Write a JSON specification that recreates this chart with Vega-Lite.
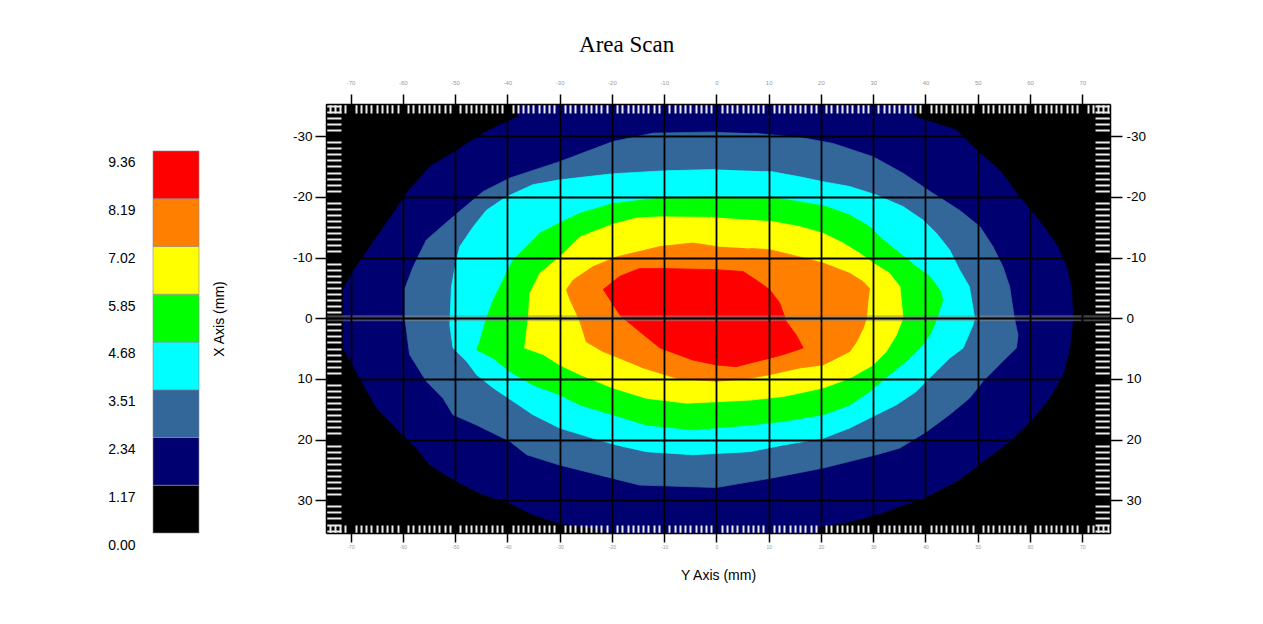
{
"$schema": "https://vega.github.io/schema/vega-lite/v6.json",
"background": "white",
"padding": {"left": 107, "top": 34, "right": 5, "bottom": 5},
"config": {"view": {"stroke": null}, "font": "Liberation Sans", "axis": {"labelFont": "Liberation Sans", "titleFont": "Liberation Sans"}},
"title": {"text": "Area Scan", "font": "Liberation Serif", "fontSize": 23, "fontWeight": "normal", "color": "#000", "anchor": "middle", "offset": 22},
"datasets": {
"legend": [
{"level":0,"lo":0,"hi":1.17},{"level":1,"lo":1.17,"hi":2.34},{"level":2,"lo":2.34,"hi":3.51},{"level":3,"lo":3.51,"hi":4.68},
{"level":4,"lo":4.68,"hi":5.85},{"level":5,"lo":5.85,"hi":7.02},{"level":6,"lo":7.02,"hi":8.19},{"level":7,"lo":8.19,"hi":9.36}],
"contours": [
{"level":1,"i":1,"y_mm":-36,"x_mm":-40},{"level":1,"i":2,"y_mm":-37.6,"x_mm":-35.3},{"level":1,"i":3,"y_mm":-37.9,"x_mm":-33.3},{"level":1,"i":4,"y_mm":-44.6,"x_mm":-30.5},{"level":1,"i":5,"y_mm":-49.4,"x_mm":-27.8},{"level":1,"i":6,"y_mm":-54.8,"x_mm":-25.0},{"level":1,"i":7,"y_mm":-59.3,"x_mm":-20.6},{"level":1,"i":8,"y_mm":-61.8,"x_mm":-17.3},{"level":1,"i":9,"y_mm":-65.0,"x_mm":-13.4},{"level":1,"i":10,"y_mm":-67.6,"x_mm":-10.1},{"level":1,"i":11,"y_mm":-69.8,"x_mm":-7.4},{"level":1,"i":12,"y_mm":-71.4,"x_mm":-4.7},{"level":1,"i":13,"y_mm":-71.4,"x_mm":4.9},{"level":1,"i":14,"y_mm":-68.2,"x_mm":9.9},{"level":1,"i":15,"y_mm":-65.0,"x_mm":14.8},{"level":1,"i":16,"y_mm":-60.6,"x_mm":18.7},{"level":1,"i":17,"y_mm":-57.4,"x_mm":21.4},{"level":1,"i":18,"y_mm":-54.8,"x_mm":24.2},{"level":1,"i":19,"y_mm":-49.7,"x_mm":26.9},{"level":1,"i":20,"y_mm":-44.6,"x_mm":29.1},{"level":1,"i":21,"y_mm":-39.5,"x_mm":30.5},{"level":1,"i":22,"y_mm":-35.1,"x_mm":32.4},{"level":1,"i":23,"y_mm":-30.0,"x_mm":33.8},{"level":1,"i":24,"y_mm":-23.6,"x_mm":34.6},{"level":1,"i":25,"y_mm":-19.8,"x_mm":35.4},{"level":1,"i":26,"y_mm":-18,"x_mm":40},{"level":1,"i":27,"y_mm":18,"x_mm":40},{"level":1,"i":28,"y_mm":19.1,"x_mm":35.4},{"level":1,"i":29,"y_mm":20.4,"x_mm":34.3},{"level":1,"i":30,"y_mm":25.5,"x_mm":33.5},{"level":1,"i":31,"y_mm":30.6,"x_mm":32.4},{"level":1,"i":32,"y_mm":39.5,"x_mm":29.7},{"level":1,"i":33,"y_mm":45.9,"x_mm":26.9},{"level":1,"i":34,"y_mm":51.0,"x_mm":23.6},{"level":1,"i":35,"y_mm":56.1,"x_mm":20.3},{"level":1,"i":36,"y_mm":60.6,"x_mm":16.5},{"level":1,"i":37,"y_mm":63.7,"x_mm":13.2},{"level":1,"i":38,"y_mm":66.3,"x_mm":9.3},{"level":1,"i":39,"y_mm":67.6,"x_mm":4.9},{"level":1,"i":40,"y_mm":68.2,"x_mm":0},{"level":1,"i":41,"y_mm":67.9,"x_mm":-5.2},{"level":1,"i":42,"y_mm":66.9,"x_mm":-8.5},{"level":1,"i":43,"y_mm":65.3,"x_mm":-11.8},{"level":1,"i":44,"y_mm":63.1,"x_mm":-14.5},{"level":1,"i":45,"y_mm":60.6,"x_mm":-17.3},{"level":1,"i":46,"y_mm":57.7,"x_mm":-20.3},{"level":1,"i":47,"y_mm":54.2,"x_mm":-24.4},{"level":1,"i":48,"y_mm":50.4,"x_mm":-27.2},{"level":1,"i":49,"y_mm":45.9,"x_mm":-31.0},{"level":1,"i":50,"y_mm":37.6,"x_mm":-33.3},{"level":1,"i":51,"y_mm":38.3,"x_mm":-35.3},{"level":1,"i":52,"y_mm":37,"x_mm":-40},
{"level":2,"i":1,"y_mm":0,"x_mm":-30.7},{"level":2,"i":2,"y_mm":-12.1,"x_mm":-30.5},{"level":2,"i":3,"y_mm":-19.8,"x_mm":-29.1},{"level":2,"i":4,"y_mm":-30.0,"x_mm":-25.8},{"level":2,"i":5,"y_mm":-39.5,"x_mm":-23.1},{"level":2,"i":6,"y_mm":-44.6,"x_mm":-20.9},{"level":2,"i":7,"y_mm":-50.4,"x_mm":-16.7},{"level":2,"i":8,"y_mm":-55.5,"x_mm":-12.9},{"level":2,"i":9,"y_mm":-58.0,"x_mm":-8.5},{"level":2,"i":10,"y_mm":-59.6,"x_mm":-4.9},{"level":2,"i":11,"y_mm":-59.6,"x_mm":0},{"level":2,"i":12,"y_mm":-58.7,"x_mm":6.0},{"level":2,"i":13,"y_mm":-55.5,"x_mm":10.4},{"level":2,"i":14,"y_mm":-52.3,"x_mm":13.2},{"level":2,"i":15,"y_mm":-50.4,"x_mm":15.9},{"level":2,"i":16,"y_mm":-45.9,"x_mm":17.6},{"level":2,"i":17,"y_mm":-39.5,"x_mm":20.3},{"level":2,"i":18,"y_mm":-36.3,"x_mm":22.5},{"level":2,"i":19,"y_mm":-30.0,"x_mm":24.2},{"level":2,"i":20,"y_mm":-19.8,"x_mm":26.4},{"level":2,"i":21,"y_mm":-14.7,"x_mm":27.5},{"level":2,"i":22,"y_mm":0,"x_mm":27.9},{"level":2,"i":23,"y_mm":10.2,"x_mm":26.4},{"level":2,"i":24,"y_mm":20.4,"x_mm":24.7},{"level":2,"i":25,"y_mm":30.6,"x_mm":22.5},{"level":2,"i":26,"y_mm":35.1,"x_mm":21.4},{"level":2,"i":27,"y_mm":40.2,"x_mm":18.7},{"level":2,"i":28,"y_mm":44.6,"x_mm":15.9},{"level":2,"i":29,"y_mm":48.4,"x_mm":13.2},{"level":2,"i":30,"y_mm":51.0,"x_mm":10.4},{"level":2,"i":31,"y_mm":54.8,"x_mm":7.1},{"level":2,"i":32,"y_mm":57.4,"x_mm":4.9},{"level":2,"i":33,"y_mm":57.7,"x_mm":2.8},{"level":2,"i":34,"y_mm":57.0,"x_mm":0},{"level":2,"i":35,"y_mm":56.1,"x_mm":-5.2},{"level":2,"i":36,"y_mm":54.8,"x_mm":-8.5},{"level":2,"i":37,"y_mm":52.9,"x_mm":-11.8},{"level":2,"i":38,"y_mm":50.4,"x_mm":-15.1},{"level":2,"i":39,"y_mm":46.5,"x_mm":-17.8},{"level":2,"i":40,"y_mm":41.4,"x_mm":-20.6},{"level":2,"i":41,"y_mm":35.7,"x_mm":-23.9},{"level":2,"i":42,"y_mm":30.0,"x_mm":-26.6},{"level":2,"i":43,"y_mm":22.3,"x_mm":-28.8},{"level":2,"i":44,"y_mm":16.6,"x_mm":-29.7},{"level":2,"i":45,"y_mm":7.0,"x_mm":-30.5},
{"level":3,"i":1,"y_mm":0,"x_mm":-24.5},{"level":3,"i":2,"y_mm":-9.6,"x_mm":-24.3},{"level":3,"i":3,"y_mm":-19.8,"x_mm":-23.8},{"level":3,"i":4,"y_mm":-30.0,"x_mm":-22.8},{"level":3,"i":5,"y_mm":-35.1,"x_mm":-22.0},{"level":3,"i":6,"y_mm":-40.2,"x_mm":-20.0},{"level":3,"i":7,"y_mm":-44.0,"x_mm":-17.8},{"level":3,"i":8,"y_mm":-46.5,"x_mm":-15.1},{"level":3,"i":9,"y_mm":-49.1,"x_mm":-11.8},{"level":3,"i":10,"y_mm":-50.0,"x_mm":-8.5},{"level":3,"i":11,"y_mm":-50.7,"x_mm":-5.2},{"level":3,"i":12,"y_mm":-51.0,"x_mm":1.1},{"level":3,"i":13,"y_mm":-50.4,"x_mm":4.9},{"level":3,"i":14,"y_mm":-47.8,"x_mm":7.1},{"level":3,"i":15,"y_mm":-45.9,"x_mm":9.3},{"level":3,"i":16,"y_mm":-42.7,"x_mm":11.5},{"level":3,"i":17,"y_mm":-38.9,"x_mm":13.7},{"level":3,"i":18,"y_mm":-35.1,"x_mm":15.9},{"level":3,"i":19,"y_mm":-30.0,"x_mm":18.1},{"level":3,"i":20,"y_mm":-23.6,"x_mm":19.8},{"level":3,"i":21,"y_mm":-19.1,"x_mm":20.9},{"level":3,"i":22,"y_mm":-13.4,"x_mm":22.0},{"level":3,"i":23,"y_mm":-4.5,"x_mm":22.5},{"level":3,"i":24,"y_mm":6.4,"x_mm":22.0},{"level":3,"i":25,"y_mm":12.8,"x_mm":20.9},{"level":3,"i":26,"y_mm":20.4,"x_mm":19.8},{"level":3,"i":27,"y_mm":25.5,"x_mm":18.1},{"level":3,"i":28,"y_mm":30.6,"x_mm":15.9},{"level":3,"i":29,"y_mm":34.4,"x_mm":14.3},{"level":3,"i":30,"y_mm":38.2,"x_mm":12.1},{"level":3,"i":31,"y_mm":41.4,"x_mm":9.3},{"level":3,"i":32,"y_mm":44.6,"x_mm":6.6},{"level":3,"i":33,"y_mm":47.2,"x_mm":4.9},{"level":3,"i":34,"y_mm":49.1,"x_mm":1.1},{"level":3,"i":35,"y_mm":49.4,"x_mm":0},{"level":3,"i":36,"y_mm":48.4,"x_mm":-5.2},{"level":3,"i":37,"y_mm":46.5,"x_mm":-8.0},{"level":3,"i":38,"y_mm":44.6,"x_mm":-11.3},{"level":3,"i":39,"y_mm":42.1,"x_mm":-14.0},{"level":3,"i":40,"y_mm":39.5,"x_mm":-16.2},{"level":3,"i":41,"y_mm":35.7,"x_mm":-18.4},{"level":3,"i":42,"y_mm":30.6,"x_mm":-20.3},{"level":3,"i":43,"y_mm":25.5,"x_mm":-21.7},{"level":3,"i":44,"y_mm":20.4,"x_mm":-22.5},{"level":3,"i":45,"y_mm":15.9,"x_mm":-23.3},{"level":3,"i":46,"y_mm":10.2,"x_mm":-24.2},
{"level":4,"i":1,"y_mm":0,"x_mm":-20.0},{"level":4,"i":2,"y_mm":-10.8,"x_mm":-19.8},{"level":4,"i":3,"y_mm":-19.8,"x_mm":-18.9},{"level":4,"i":4,"y_mm":-26.1,"x_mm":-17.3},{"level":4,"i":5,"y_mm":-30.0,"x_mm":-15.7},{"level":4,"i":6,"y_mm":-33.8,"x_mm":-14.0},{"level":4,"i":7,"y_mm":-36.3,"x_mm":-11.8},{"level":4,"i":8,"y_mm":-38.9,"x_mm":-9.6},{"level":4,"i":9,"y_mm":-40.8,"x_mm":-6.3},{"level":4,"i":10,"y_mm":-42.7,"x_mm":-3.0},{"level":4,"i":11,"y_mm":-44.0,"x_mm":0},{"level":4,"i":12,"y_mm":-45.3,"x_mm":3.9},{"level":4,"i":13,"y_mm":-45.9,"x_mm":5.2},{"level":4,"i":14,"y_mm":-42.7,"x_mm":6.6},{"level":4,"i":15,"y_mm":-39.5,"x_mm":8.8},{"level":4,"i":16,"y_mm":-35.1,"x_mm":11.0},{"level":4,"i":17,"y_mm":-30.0,"x_mm":12.6},{"level":4,"i":18,"y_mm":-26.1,"x_mm":14.3},{"level":4,"i":19,"y_mm":-19.8,"x_mm":15.9},{"level":4,"i":20,"y_mm":-13.4,"x_mm":17.6},{"level":4,"i":21,"y_mm":-4.5,"x_mm":18.4},{"level":4,"i":22,"y_mm":6.4,"x_mm":17.6},{"level":4,"i":23,"y_mm":12.8,"x_mm":17.0},{"level":4,"i":24,"y_mm":20.4,"x_mm":15.9},{"level":4,"i":25,"y_mm":25.5,"x_mm":14.3},{"level":4,"i":26,"y_mm":29.3,"x_mm":12.1},{"level":4,"i":27,"y_mm":33.1,"x_mm":9.3},{"level":4,"i":28,"y_mm":36.3,"x_mm":7.1},{"level":4,"i":29,"y_mm":38.9,"x_mm":4.9},{"level":4,"i":30,"y_mm":40.8,"x_mm":2.8},{"level":4,"i":31,"y_mm":42.2,"x_mm":0},{"level":4,"i":32,"y_mm":43.3,"x_mm":-3.0},{"level":4,"i":33,"y_mm":42.7,"x_mm":-4.7},{"level":4,"i":34,"y_mm":40.8,"x_mm":-6.9},{"level":4,"i":35,"y_mm":38.2,"x_mm":-8.5},{"level":4,"i":36,"y_mm":35.1,"x_mm":-10.7},{"level":4,"i":37,"y_mm":31.9,"x_mm":-12.9},{"level":4,"i":38,"y_mm":29.3,"x_mm":-15.1},{"level":4,"i":39,"y_mm":25.5,"x_mm":-17.0},{"level":4,"i":40,"y_mm":21.0,"x_mm":-18.4},{"level":4,"i":41,"y_mm":15.9,"x_mm":-19.2},{"level":4,"i":42,"y_mm":10.2,"x_mm":-19.9},
{"level":5,"i":1,"y_mm":0,"x_mm":-16.6},{"level":5,"i":2,"y_mm":-10.8,"x_mm":-16.7},{"level":5,"i":3,"y_mm":-15.3,"x_mm":-16.5},{"level":5,"i":4,"y_mm":-19.8,"x_mm":-15.5},{"level":5,"i":5,"y_mm":-26.1,"x_mm":-13.4},{"level":5,"i":6,"y_mm":-30.0,"x_mm":-10.1},{"level":5,"i":7,"y_mm":-33.8,"x_mm":-7.4},{"level":5,"i":8,"y_mm":-35.7,"x_mm":-4.1},{"level":5,"i":9,"y_mm":-36.0,"x_mm":0},{"level":5,"i":10,"y_mm":-36.7,"x_mm":4.9},{"level":5,"i":11,"y_mm":-33.1,"x_mm":6.0},{"level":5,"i":12,"y_mm":-30.0,"x_mm":7.7},{"level":5,"i":13,"y_mm":-26.1,"x_mm":9.3},{"level":5,"i":14,"y_mm":-19.8,"x_mm":11.5},{"level":5,"i":15,"y_mm":-13.4,"x_mm":13.2},{"level":5,"i":16,"y_mm":-5.7,"x_mm":14.0},{"level":5,"i":17,"y_mm":6.4,"x_mm":13.5},{"level":5,"i":18,"y_mm":12.8,"x_mm":12.9},{"level":5,"i":19,"y_mm":20.4,"x_mm":11.5},{"level":5,"i":20,"y_mm":25.5,"x_mm":9.9},{"level":5,"i":21,"y_mm":30.0,"x_mm":7.7},{"level":5,"i":22,"y_mm":32.5,"x_mm":5.5},{"level":5,"i":23,"y_mm":34.4,"x_mm":2.8},{"level":5,"i":24,"y_mm":35.7,"x_mm":0},{"level":5,"i":25,"y_mm":35.1,"x_mm":-5.2},{"level":5,"i":26,"y_mm":33.1,"x_mm":-7.4},{"level":5,"i":27,"y_mm":30.0,"x_mm":-9.1},{"level":5,"i":28,"y_mm":27.4,"x_mm":-10.7},{"level":5,"i":29,"y_mm":24.2,"x_mm":-12.4},{"level":5,"i":30,"y_mm":20.4,"x_mm":-14.0},{"level":5,"i":31,"y_mm":15.9,"x_mm":-15.1},{"level":5,"i":32,"y_mm":10.2,"x_mm":-16.0},
{"level":6,"i":1,"y_mm":0,"x_mm":-11.8},{"level":6,"i":2,"y_mm":-4.5,"x_mm":-12.4},{"level":6,"i":3,"y_mm":-10.8,"x_mm":-11.8},{"level":6,"i":4,"y_mm":-19.1,"x_mm":-10.1},{"level":6,"i":5,"y_mm":-23.6,"x_mm":-8.5},{"level":6,"i":6,"y_mm":-27.4,"x_mm":-6.3},{"level":6,"i":7,"y_mm":-28.7,"x_mm":-4.7},{"level":6,"i":8,"y_mm":-28.0,"x_mm":-3.0},{"level":6,"i":9,"y_mm":-26.8,"x_mm":-0.8},{"level":6,"i":10,"y_mm":-26.1,"x_mm":0.6},{"level":6,"i":11,"y_mm":-24.9,"x_mm":3.9},{"level":6,"i":12,"y_mm":-21.7,"x_mm":5.5},{"level":6,"i":13,"y_mm":-18.5,"x_mm":6.6},{"level":6,"i":14,"y_mm":-14.0,"x_mm":8.2},{"level":6,"i":15,"y_mm":-7.6,"x_mm":9.9},{"level":6,"i":16,"y_mm":0,"x_mm":10.4},{"level":6,"i":17,"y_mm":6.4,"x_mm":9.9},{"level":6,"i":18,"y_mm":10.2,"x_mm":9.3},{"level":6,"i":19,"y_mm":15.9,"x_mm":8.2},{"level":6,"i":20,"y_mm":20.4,"x_mm":7.7},{"level":6,"i":21,"y_mm":25.5,"x_mm":5.5},{"level":6,"i":22,"y_mm":26.8,"x_mm":3.9},{"level":6,"i":23,"y_mm":28.1,"x_mm":1.6},{"level":6,"i":24,"y_mm":28.7,"x_mm":0},{"level":6,"i":25,"y_mm":29.0,"x_mm":-3.0},{"level":6,"i":26,"y_mm":29.3,"x_mm":-4.9},{"level":6,"i":27,"y_mm":28.1,"x_mm":-6.0},{"level":6,"i":28,"y_mm":25.5,"x_mm":-7.4},{"level":6,"i":29,"y_mm":20.4,"x_mm":-9.1},{"level":6,"i":30,"y_mm":15.9,"x_mm":-10.1},{"level":6,"i":31,"y_mm":10.2,"x_mm":-11.3},{"level":6,"i":32,"y_mm":6.4,"x_mm":-11.5},
{"level":7,"i":1,"y_mm":-21.7,"x_mm":-4.7},{"level":7,"i":2,"y_mm":-18.5,"x_mm":-6.9},{"level":7,"i":3,"y_mm":-14.7,"x_mm":-8.2},{"level":7,"i":4,"y_mm":-10.8,"x_mm":-8.2},{"level":7,"i":5,"y_mm":0,"x_mm":-8.0},{"level":7,"i":6,"y_mm":5.1,"x_mm":-7.7},{"level":7,"i":7,"y_mm":7.6,"x_mm":-6.3},{"level":7,"i":8,"y_mm":10.2,"x_mm":-4.7},{"level":7,"i":9,"y_mm":12.1,"x_mm":-2.5},{"level":7,"i":10,"y_mm":13.4,"x_mm":0.6},{"level":7,"i":11,"y_mm":15.3,"x_mm":2.8},{"level":7,"i":12,"y_mm":16.6,"x_mm":4.9},{"level":7,"i":13,"y_mm":12.8,"x_mm":6.0},{"level":7,"i":14,"y_mm":10.2,"x_mm":6.6},{"level":7,"i":15,"y_mm":6.4,"x_mm":7.4},{"level":7,"i":16,"y_mm":3.8,"x_mm":8.0},{"level":7,"i":17,"y_mm":0,"x_mm":7.7},{"level":7,"i":18,"y_mm":-4.5,"x_mm":6.9},{"level":7,"i":19,"y_mm":-10.8,"x_mm":4.9},{"level":7,"i":20,"y_mm":-14.7,"x_mm":2.2},{"level":7,"i":21,"y_mm":-18.5,"x_mm":-0.5}
]},
"hconcat": [
{
"width": 46, "height": 429,
"data": {"name": "legend"},
"mark": {"type": "rect", "stroke": "#8c8c8c", "strokeWidth": 0.6},
"encoding": {
"y": {"field": "lo", "type": "quantitative", "scale": {"domain": [0, 10.51], "nice": false, "zero": true},
 "axis": {"orient": "left", "title": null, "values": [0,1.17,2.34,3.51,4.68,5.85,7.02,8.19,9.36], "format": ".2f", "labelOffset": 12, "ticks": false, "domain": false, "grid": false, "labelPadding": 18, "labelFontSize": 14, "labelColor": "#000", "labelOverlap": false, "labelBound": false, "labelFlush": false}},
"y2": {"field": "hi"},
"color": {"field": "level", "type": "ordinal", "scale": {"domain": [0,1,2,3,4,5,6,7], "range": ["#000000","#000070","#336699","#00ffff","#00ff00","#ffff00","#ff8000","#ff0000"]}, "legend": null}
}
},
{
"width": 784, "height": 429,
"view": {"fill": "#000000", "stroke": null},
"data": {"name": "contours"},
"resolve": {"axis": {"x": "independent", "y": "independent"}},
"layer": [
{"transform": [{"filter": "datum.level == 1"}],
 "mark": {"type": "line", "fill": "#000070", "stroke": "#000070", "strokeWidth": 0.8, "clip": true},
 "encoding": {
  "x": {"field": "y_mm", "type": "quantitative", "scale": {"domain": [-74.7, 75.3], "nice": false, "zero": false},
   "axis": {"orient": "bottom", "title": "Y Axis (mm)", "tickCount": 150, "labelExpr": "datum.value % 10 === 0 ? '' + datum.value : ''", "labelFontSize": 5, "labelColor": "#999", "labelPadding": 2, "labelOverlap": false, "labelFlush": false, "labelBound": false,
    "tickSize": {"condition": {"test": "datum.value % 10 === 0", "value": 9}, "value": -8},
    "tickColor": {"condition": {"test": "datum.value % 10 === 0", "value": "#000"}, "value": "#ececec"},
    "tickWidth": {"condition": {"test": "datum.value % 10 === 0", "value": 1.5}, "value": 2},
    "grid": true, "gridColor": "#000", "gridWidth": 1.8,
    "gridOpacity": {"condition": {"test": "datum.value % 10 === 0", "value": 1}, "value": 0},
    "domain": true, "domainColor": "#000", "domainWidth": 1.5, "zindex": 1,
    "titleFontSize": 14, "titleFontWeight": "normal", "titleColor": "#000", "titlePadding": 19}},
  "y": {"field": "x_mm", "type": "quantitative", "scale": {"domain": [-35.3, 35.4], "nice": false, "zero": false, "reverse": true},
   "axis": {"orient": "left", "title": "X Axis (mm)", "tickCount": 70, "labelExpr": "datum.value % 10 === 0 ? '' + datum.value : ''", "labelFontSize": 13.5, "labelColor": "#000", "labelPadding": 3, "labelOverlap": false, "labelFlush": false, "labelBound": false,
    "tickSize": {"condition": {"test": "datum.value % 10 === 0", "value": 11}, "value": -15},
    "tickColor": {"condition": {"test": "datum.value % 10 === 0", "value": "#000"}, "value": "#ececec"},
    "tickWidth": {"condition": {"test": "datum.value % 10 === 0", "value": 1.5}, "value": 2},
    "grid": true, "gridColor": "#000", "gridWidth": 1.8,
    "gridOpacity": {"condition": {"test": "datum.value % 10 === 0", "value": 1}, "value": 0},
    "domain": true, "domainColor": "#000", "domainWidth": 1.5, "zindex": 1,
    "titleFontSize": 14, "titleFontWeight": "normal", "titleColor": "#000", "titlePadding": 66}},
  "order": {"field": "i", "type": "quantitative"}}},
{"transform": [{"filter": "datum.level == 2"}],
 "mark": {"type": "line", "fill": "#336699", "stroke": "#336699", "strokeWidth": 0.8, "clip": true},
 "encoding": {
  "x": {"field": "y_mm", "type": "quantitative", "scale": {"domain": [-74.7, 75.3], "nice": false, "zero": false}, "axis": null},
  "y": {"field": "x_mm", "type": "quantitative", "scale": {"domain": [-35.3, 35.4], "nice": false, "zero": false, "reverse": true}, "axis": null},
  "order": {"field": "i", "type": "quantitative"}}},
{"transform": [{"filter": "datum.level == 3"}],
 "mark": {"type": "line", "fill": "#00ffff", "stroke": "#00ffff", "strokeWidth": 0.8, "clip": true},
 "encoding": {
  "x": {"field": "y_mm", "type": "quantitative", "scale": {"domain": [-74.7, 75.3], "nice": false, "zero": false}, "axis": null},
  "y": {"field": "x_mm", "type": "quantitative", "scale": {"domain": [-35.3, 35.4], "nice": false, "zero": false, "reverse": true}, "axis": null},
  "order": {"field": "i", "type": "quantitative"}}},
{"transform": [{"filter": "datum.level == 4"}],
 "mark": {"type": "line", "fill": "#00ff00", "stroke": "#00ff00", "strokeWidth": 0.8, "clip": true},
 "encoding": {
  "x": {"field": "y_mm", "type": "quantitative", "scale": {"domain": [-74.7, 75.3], "nice": false, "zero": false}, "axis": null},
  "y": {"field": "x_mm", "type": "quantitative", "scale": {"domain": [-35.3, 35.4], "nice": false, "zero": false, "reverse": true}, "axis": null},
  "order": {"field": "i", "type": "quantitative"}}},
{"transform": [{"filter": "datum.level == 5"}],
 "mark": {"type": "line", "fill": "#ffff00", "stroke": "#ffff00", "strokeWidth": 0.8, "clip": true},
 "encoding": {
  "x": {"field": "y_mm", "type": "quantitative", "scale": {"domain": [-74.7, 75.3], "nice": false, "zero": false}, "axis": null},
  "y": {"field": "x_mm", "type": "quantitative", "scale": {"domain": [-35.3, 35.4], "nice": false, "zero": false, "reverse": true}, "axis": null},
  "order": {"field": "i", "type": "quantitative"}}},
{"transform": [{"filter": "datum.level == 6"}],
 "mark": {"type": "line", "fill": "#ff8000", "stroke": "#ff8000", "strokeWidth": 0.8, "clip": true},
 "encoding": {
  "x": {"field": "y_mm", "type": "quantitative", "scale": {"domain": [-74.7, 75.3], "nice": false, "zero": false}, "axis": null},
  "y": {"field": "x_mm", "type": "quantitative", "scale": {"domain": [-35.3, 35.4], "nice": false, "zero": false, "reverse": true}, "axis": null},
  "order": {"field": "i", "type": "quantitative"}}},
{"transform": [{"filter": "datum.level == 7"}],
 "mark": {"type": "line", "fill": "#ff0000", "stroke": "#ff0000", "strokeWidth": 0.8, "clip": true},
 "encoding": {
  "x": {"field": "y_mm", "type": "quantitative", "scale": {"domain": [-74.7, 75.3], "nice": false, "zero": false},
   "axis": {"orient": "top", "title": null, "tickCount": 150, "labelExpr": "datum.value % 10 === 0 ? '' + datum.value : ''", "labelFontSize": 6, "labelColor": "#999", "labelPadding": 9, "labelOverlap": false, "labelFlush": false, "labelBound": false,
    "tickSize": {"condition": {"test": "datum.value % 10 === 0", "value": 10}, "value": -9},
    "tickColor": {"condition": {"test": "datum.value % 10 === 0", "value": "#000"}, "value": "#ececec"},
    "tickWidth": {"condition": {"test": "datum.value % 10 === 0", "value": 1.5}, "value": 2},
    "grid": false, "domain": true, "domainColor": "#000", "domainWidth": 1.5, "zindex": 1}},
  "y": {"field": "x_mm", "type": "quantitative", "scale": {"domain": [-35.3, 35.4], "nice": false, "zero": false, "reverse": true},
   "axis": {"orient": "right", "title": null, "tickCount": 70, "labelExpr": "datum.value % 10 === 0 ? '' + datum.value : ''", "labelFontSize": 13.5, "labelColor": "#000", "labelPadding": 4, "labelOverlap": false, "labelFlush": false, "labelBound": false,
    "tickSize": {"condition": {"test": "datum.value % 10 === 0", "value": 12}, "value": -15},
    "tickColor": {"condition": {"test": "datum.value % 10 === 0", "value": "#000"}, "value": "#ececec"},
    "tickWidth": {"condition": {"test": "datum.value % 10 === 0", "value": 1.5}, "value": 2},
    "grid": false, "domain": true, "domainColor": "#000", "domainWidth": 1.5, "zindex": 1}},
  "order": {"field": "i", "type": "quantitative"}}},
{"data": {"values": [{"x_mm": 0}]},
 "mark": {"type": "rule", "color": "#8a8a8a", "opacity": 0.5, "strokeWidth": 6},
 "encoding": {
  "y": {"field": "x_mm", "type": "quantitative", "scale": {"domain": [-35.3, 35.4], "nice": false, "zero": false, "reverse": true}, "axis": null}}}
]
}
],
"spacing": 127,
"bounds": "flush"
}
